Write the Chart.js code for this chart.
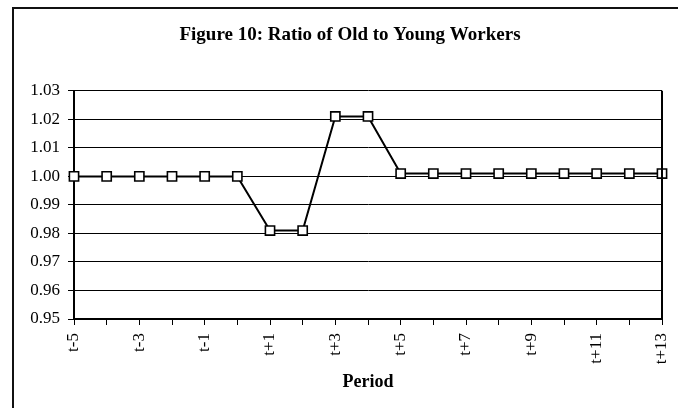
<!DOCTYPE html>
<html>
<head>
<meta charset="utf-8">
<title>Figure 10: Ratio of Old to Young Workers</title>
<script src="https://cdn.jsdelivr.net/npm/chart.js@4/dist/chart.umd.min.js"></script>
<style>
    html, body {
        margin: 0;
        padding: 0;
        background: #ffffff;
        overflow: hidden;
    }
    #wrap {
        position: relative;
        width: 678px;
        height: 408px;
    }
    /* Scanned page frame, runs off the right and bottom edge */
    #frame {
        position: absolute;
        left: 12px;
        top: 7px;
        width: 700px;
        height: 420px;
        border-left: 2px solid #111;
        border-top: 2px solid #111;
        box-sizing: border-box;
    }
    #chart {
        position: absolute;
        left: 0;
        top: 0;
    }
</style>
</head>
<body>
<div id="wrap">
    <div id="frame"></div>
    <canvas id="chart" width="678" height="408"></canvas>
</div>
<script>
// Chart data
const periods = ['t-5', 't-4', 't-3', 't-2', 't-1', 't', 't+1', 't+2', 't+3', 't+4',
                 't+5', 't+6', 't+7', 't+8', 't+9', 't+10', 't+11', 't+12', 't+13'];
const ratio = [1.000, 1.000, 1.000, 1.000, 1.000, 1.000, 0.981, 0.981, 1.021, 1.021,
               1.001, 1.001, 1.001, 1.001, 1.001, 1.001, 1.001, 1.001, 1.001];
const yTicks = [0.95, 0.96, 0.97, 0.98, 0.99, 1.00, 1.01, 1.02, 1.03];

const serif = "'Liberation Serif', 'Times New Roman', serif";

// Title sits a bit right of the canvas centre in the scan
const titleShift = 19;

// Nudges the title block and draws the right-hand edge of the plot box
const plotFrame = {
    id: 'plotFrame',
    afterLayout: function(chart) {
        const t = chart.titleBlock;
        if (t) {
            t.left += titleShift;
            t.right += titleShift;
        }
    },
    afterDraw: function(chart) {
        const area = chart.chartArea;
        const ctx = chart.ctx;
        ctx.save();
        ctx.strokeStyle = '#000';
        ctx.lineWidth = 2;
        ctx.beginPath();
        ctx.moveTo(area.right, area.top);
        ctx.lineTo(area.right, area.bottom + 1);
        ctx.stroke();
        ctx.restore();
    }
};

const ctx = document.getElementById('chart');

new Chart(ctx, {
    type: 'line',
    data: {
        labels: periods,
        datasets: [{
            label: 'Ratio',
            data: ratio,
            borderColor: '#000',
            borderWidth: 2,
            tension: 0,
            pointStyle: 'rect',
            pointRadius: 6.5,
            pointBorderWidth: 1.6,
            pointBorderColor: '#000',
            pointBackgroundColor: '#fff'
        }]
    },
    options: {
        responsive: false,
        animation: false,
        devicePixelRatio: 1,
        layout: {
            padding: { left: 0, right: 16, top: 0, bottom: 0 }
        },
        plugins: {
            legend: { display: false },
            tooltip: { enabled: false },
            title: {
                display: true,
                text: 'Figure 10: Ratio of Old to Young Workers',
                color: '#000',
                font: { family: serif, size: 19, weight: 'bold' },
                padding: { top: 24, bottom: 44 }
            }
        },
        scales: {
            x: {
                type: 'category',
                offset: false,
                afterFit: function(scale) {
                    scale.height = 89;
                    // rotated labels otherwise eat into the right margin
                    scale.paddingLeft = 0;
                    scale.paddingRight = 0;
                },
                border: { display: true, color: '#000', width: 2 },
                grid: {
                    display: true,
                    drawOnChartArea: false,
                    drawTicks: true,
                    tickLength: 6,
                    color: '#000'
                },
                ticks: {
                    autoSkip: false,
                    maxRotation: 90,
                    minRotation: 90,
                    padding: 8,
                    color: '#000',
                    font: { family: serif, size: 17 },
                    callback: function(value, index) {
                        return index % 2 === 0 ? periods[index] : '';
                    }
                },
                title: {
                    display: true,
                    text: 'Period',
                    color: '#000',
                    font: { family: serif, size: 18, weight: 'bold' },
                    padding: { top: 0, bottom: 15 }
                }
            },
            y: {
                min: yTicks[0],
                max: yTicks[yTicks.length - 1],
                afterFit: function(scale) { scale.width = 74; },
                afterBuildTicks: function(scale) {
                    scale.ticks = yTicks.map(function(v) { return { value: v }; });
                },
                border: { display: true, color: '#000', width: 2 },
                grid: {
                    color: '#000',
                    lineWidth: 1,
                    drawTicks: true,
                    tickLength: 6
                },
                ticks: {
                    padding: 8,
                    color: '#000',
                    font: { family: serif, size: 17 },
                    callback: function(value) { return Number(value).toFixed(2); }
                }
            }
        }
    },
    plugins: [plotFrame]
});
</script>
</body>
</html>
